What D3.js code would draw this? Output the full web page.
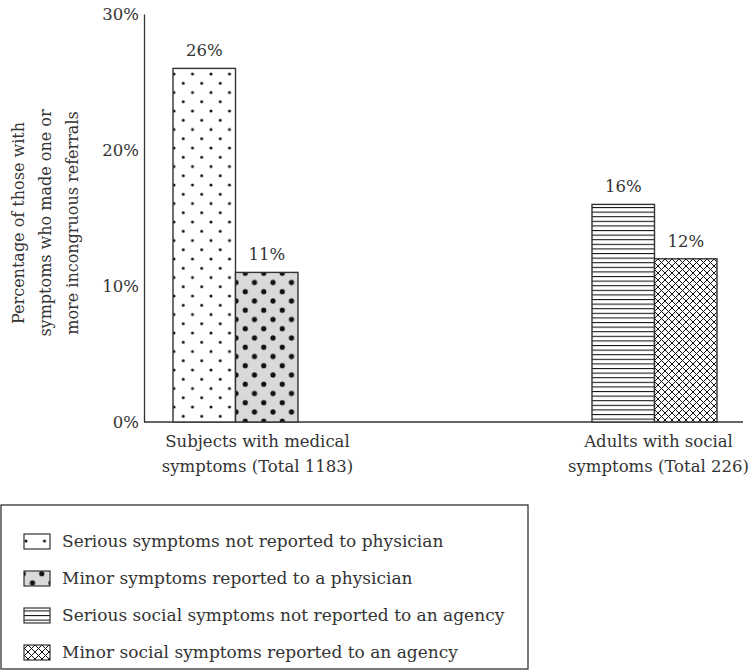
<!DOCTYPE html>
<html>
<head>
<meta charset="utf-8">
<script src="https://cdn.jsdelivr.net/npm/d3@7"></script>
<style>
body { margin: 0; background: #fff; }
text { font-family: "DejaVu Serif", serif; fill: #333; }
</style>
</head>
<body>
<script>
var categories = ["Subjects with medical|symptoms (Total 1183)", "Adults with social|symptoms (Total 226)"];
var seriesNames = [
	"Serious symptoms not reported to physician",
	"Minor symptoms reported to a physician",
	"Serious social symptoms not reported to an agency",
	"Minor social symptoms reported to an agency"
];
var seriesCategory = [0, 0, 1, 1];
var seriesSlot = [0, 1, 0, 1];
var values = [26, 11, 16, 12];
var yTicks = [0, 10, 20, 30];
var yTitle = ["Percentage of those with", "symptoms who made one or", "more incongruous referrals"];

var width = 749, height = 671;
var svg = d3.select("body").append("svg").attr("width", width).attr("height", height);

//Patterns for the four series.
var defs = svg.append("defs");

var p0 = defs.append("pattern").attr("id", "pat0").attr("patternUnits", "userSpaceOnUse")
	.attr("width", 18.5).attr("height", 18.5).attr("x", 174).attr("y", 0);
p0.append("rect").attr("width", 18.5).attr("height", 18.5).attr("fill", "#fff");
[[0, 0], [18.5, 0], [0, 18.5], [18.5, 18.5], [9.25, 9.25]].forEach(function(c) {
	p0.append("circle").attr("cx", c[0]).attr("cy", c[1]).attr("r", 1.5).attr("fill", "#111");
});

var p1 = defs.append("pattern").attr("id", "pat1").attr("patternUnits", "userSpaceOnUse")
	.attr("width", 18.5).attr("height", 18.5).attr("x", 236).attr("y", 5);
p1.append("rect").attr("width", 18.5).attr("height", 18.5).attr("fill", "#d9d9d9");
[[0, 0], [18.5, 0], [0, 18.5], [18.5, 18.5], [9.25, 9.25]].forEach(function(c) {
	p1.append("circle").attr("cx", c[0]).attr("cy", c[1]).attr("r", 2.6).attr("fill", "#111");
});

var p2 = defs.append("pattern").attr("id", "pat2").attr("patternUnits", "userSpaceOnUse")
	.attr("width", 10).attr("height", 4.6);
p2.append("rect").attr("width", 10).attr("height", 4.6).attr("fill", "#fff");
p2.append("line").attr("x1", 0).attr("x2", 10).attr("y1", 0.5).attr("y2", 0.5)
	.attr("stroke", "#111").attr("stroke-width", 1.1);

var p3 = defs.append("pattern").attr("id", "pat3").attr("patternUnits", "userSpaceOnUse")
	.attr("width", 7).attr("height", 7);
p3.append("rect").attr("width", 7).attr("height", 7).attr("fill", "#fff");
p3.append("path").attr("d", "M0,0L7,7M7,0L0,7M-1,6L1,8M6,-1L8,1M-1,1L1,-1M6,8L8,6")
	.attr("stroke", "#111").attr("stroke-width", 1);

var fills = ["url(#pat0)", "url(#pat1)", "url(#pat2)", "url(#pat3)"];

//Scales.
var y = d3.scaleLinear().domain([0, 30]).range([422, 14]);
var x = d3.scalePoint().domain(d3.range(categories.length)).range([235.5, 654.5]);
var xInner = d3.scaleBand().domain([0, 1]).range([-62.5, 62.5]);

//Y axis.
var yAxis = svg.append("g").attr("transform", "translate(144,0)")
	.call(d3.axisLeft(y).tickValues(yTicks).tickSize(0).tickPadding(5).tickFormat(function(d) { return d + "%"; }));
yAxis.select(".domain").attr("stroke", "#333").attr("stroke-width", 1.3);
yAxis.selectAll("text").style("font-family", "DejaVu Serif").style("font-size", "16.5px").attr("fill", "#333")
	.attr("dy", "0.35em");

//Baseline.
svg.append("line").attr("x1", 144).attr("x2", 743).attr("y1", y(0)).attr("y2", y(0))
	.attr("stroke", "#333").attr("stroke-width", 1.3);

//Y title.
var yt = svg.append("text").attr("transform", "translate(0,223) rotate(-90)")
	.attr("text-anchor", "middle").style("font-size", "16px");
yTitle.forEach(function(t, i) {
	yt.append("tspan").attr("x", 0).attr("y", 24 + i * 27).text(t);
});

//Bars.
var bars = svg.selectAll(".bar").data(values).enter();
bars.append("rect").attr("class", "bar")
	.attr("x", function(d, i) { return x(seriesCategory[i]) + xInner(seriesSlot[i]); })
	.attr("y", function(d) { return y(d); })
	.attr("width", xInner.bandwidth())
	.attr("height", function(d) { return y(0) - y(d); })
	.attr("fill", function(d, i) { return fills[i]; })
	.attr("stroke", "#333").attr("stroke-width", 1.4);

bars.append("text")
	.attr("x", function(d, i) { return x(seriesCategory[i]) + xInner(seriesSlot[i]) + xInner.bandwidth() / 2; })
	.attr("y", function(d) { return y(d) - 12; })
	.attr("text-anchor", "middle").style("font-size", "16.5px")
	.text(function(d) { return d + "%"; });

//Category labels.
var labelShift = [22, 4];
categories.forEach(function(c, i) {
	var t = svg.append("text").attr("text-anchor", "middle").style("font-size", "16.5px");
	c.split("|").forEach(function(line, j) {
		t.append("tspan").attr("x", x(i) + labelShift[i]).attr("y", 447 + j * 25).text(line);
	});
});

//Legend.
var legend = svg.append("g");
legend.append("rect").attr("x", 1).attr("y", 505).attr("width", 527).attr("height", 164)
	.attr("fill", "none").attr("stroke", "#333").attr("stroke-width", 1.3);
var rows = legend.selectAll(".row").data(seriesNames).enter().append("g")
	.attr("transform", function(d, i) { return "translate(0," + (541 + i * 37) + ")"; });
rows.append("rect").attr("x", 24).attr("y", -7).attr("width", 26).attr("height", 15)
	.attr("fill", function(d, i) { return fills[i]; })
	.attr("stroke", "#333").attr("stroke-width", 1.2);
rows.append("text").attr("x", 62).attr("y", 0).attr("dy", "0.35em").style("font-size", "17px")
	.text(function(d) { return d; });
</script>
</body>
</html>
